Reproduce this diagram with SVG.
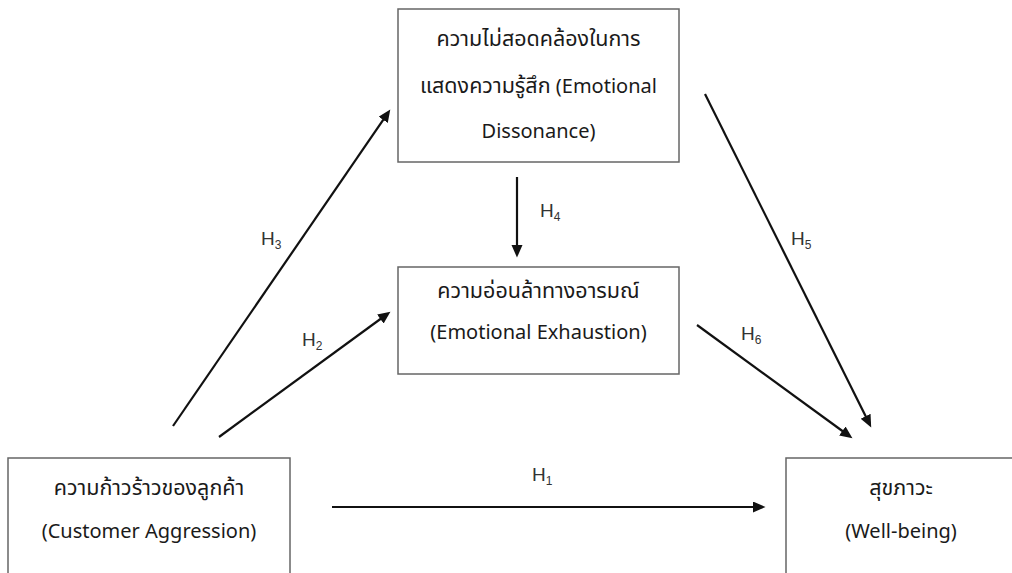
<svg xmlns="http://www.w3.org/2000/svg" width="1012" height="573" viewBox="0 0 1012 573">
<style>
.box{fill:#fff;stroke:#666;stroke-width:1.5}
.t{font-family:"Noto Sans Thai","Noto Sans","Open Sans","DejaVu Sans",sans-serif;font-size:20px;fill:#1a1a1a;text-anchor:middle}
.th{font-size:21.5px}
.lbl{font-family:"Liberation Sans",Arial,sans-serif;font-size:19px;fill:#333}
.sub{font-size:12px}
.c{stroke:#111;stroke-width:2.2;fill:none;marker-end:url(#ah)}
</style>
<defs>
<marker id="ah" markerUnits="userSpaceOnUse" markerWidth="14" markerHeight="12" refX="6" refY="5.5" orient="auto">
<path d="M0,0 L12.5,5.5 L0,11 Z" fill="#111"/>
</marker>
</defs>
<rect width="1012" height="573" fill="#fff"/>
<g id="connectors">
<line class="c" x1="173" y1="426" x2="386.6" y2="114.9"/>
<line class="c" x1="219" y1="437" x2="385.2" y2="315.5"/>
<line class="c" x1="517" y1="177" x2="517" y2="251"/>
<line class="c" x1="705" y1="94" x2="868.3" y2="421.6"/>
<line class="c" x1="697" y1="325" x2="847.2" y2="434.5"/>
<line class="c" x1="332" y1="507" x2="759" y2="507"/>
<text class="lbl" x="261" y="245">H<tspan class="sub" dy="4">3</tspan></text>
<text class="lbl" x="302" y="346">H<tspan class="sub" dy="4">2</tspan></text>
<text class="lbl" x="540" y="217">H<tspan class="sub" dy="4">4</tspan></text>
<text class="lbl" x="791" y="245">H<tspan class="sub" dy="4">5</tspan></text>
<text class="lbl" x="741" y="340">H<tspan class="sub" dy="4">6</tspan></text>
<text class="lbl" x="532" y="481">H<tspan class="sub" dy="4">1</tspan></text>
</g>
<g id="dissonance">
<rect class="box" x="398" y="9" width="281" height="153"/>
<text class="t th" x="538.5" y="46">ความไม่สอดคล้องในการ</text>
<text class="t" x="538.5" y="93"><tspan class="th">แสดงความรู้สึก</tspan> (Emotional</text>
<text class="t" x="538.5" y="138">Dissonance)</text>
</g>
<g id="exhaustion">
<rect class="box" x="398" y="267" width="281" height="107"/>
<text class="t th" x="538.5" y="298">ความอ่อนล้าทางอารมณ์</text>
<text class="t" x="538.5" y="339">(Emotional Exhaustion)</text>
</g>
<g id="aggression">
<rect class="box" x="8" y="458" width="282" height="120"/>
<text class="t th" x="149" y="495">ความก้าวร้าวของลูกค้า</text>
<text class="t" x="149" y="538">(Customer Aggression)</text>
</g>
<g id="wellbeing">
<rect class="box" x="786" y="458" width="240" height="120"/>
<text class="t th" x="901" y="495">สุขภาวะ</text>
<text class="t" x="901" y="538">(Well-being)</text>
</g>
</svg>
